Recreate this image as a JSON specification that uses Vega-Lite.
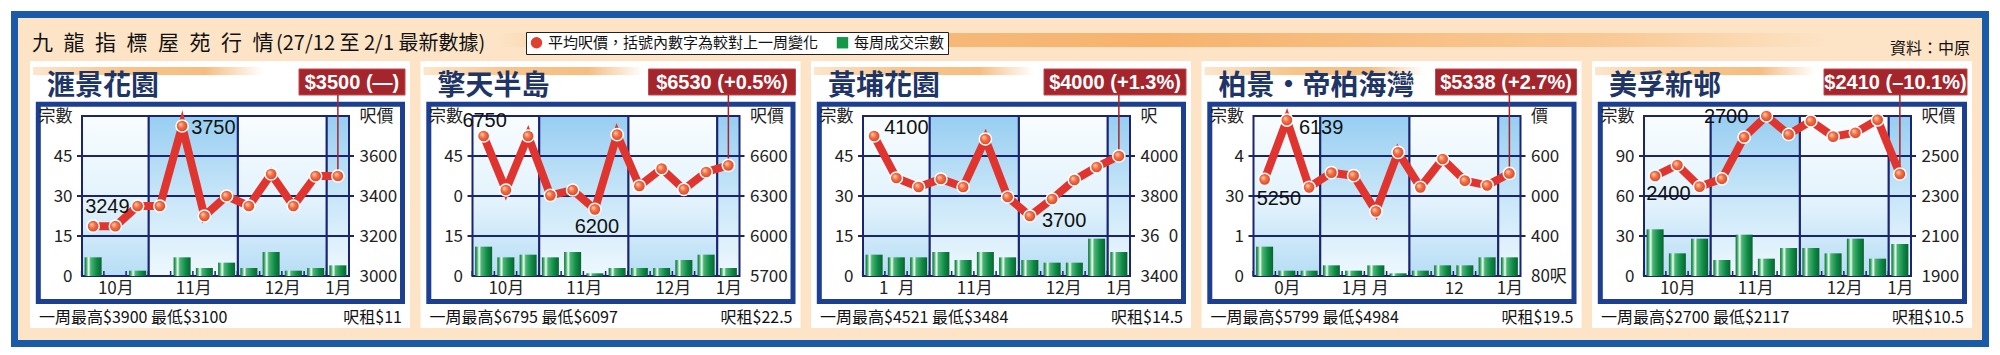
{
"$schema":"https://vega.github.io/schema/vega-lite/v6.json",
"autosize":{"type":"pad"},
"padding":{"left":11,"top":11,"right":11,"bottom":8},
"background":"white",
"spacing":113.5,
"bounds":"flush",
"config":{"view":{"stroke":null},"axis":{"labelOverlap":false}},
"datasets":{
"header":[{"title":"九\u2002龍\u2002指\u2002標\u2002屋\u2002苑\u2002行\u2002情","period":"(27/12 至 2/1 最新數據)","source":"資料：中原"}],
"legend":[{"series":"平均呎價，括號內數字為較對上一周變化"},{"series":"每周成交宗數"}],
"months":[{"month":"10月","start":0.5,"end":3.5,"tone":"light"},{"month":"11月","start":3.5,"end":7.5,"tone":"dark"},{"month":"12月","start":7.5,"end":11.5,"tone":"light"},{"month":"1月","start":11.5,"end":12.5,"tone":"dark"}],
"gridRows":[{"r":1},{"r":2},{"r":3}],
"info":[
{"estate":"滙景花園","tag":"$3500 (—)","footer":"一周最高$3900 最低$3100","rent":"呎租$11"},
{"estate":"擎天半島","tag":"$6530 (+0.5%)","footer":"一周最高$6795 最低$6097","rent":"呎租$22.5"},
{"estate":"黃埔花園","tag":"$4000 (+1.3%)","footer":"一周最高$4521 最低$3484","rent":"呎租$14.5"},
{"estate":"柏景•帝柏海灣","tag":"$5338 (+2.7%)","footer":"一周最高$5799 最低$4984","rent":"呎租$19.5"},
{"estate":"美孚新邨","tag":"$2410 (–10.1%)","footer":"一周最高$2700 最低$2117","rent":"呎租$10.5"}],
"weeks":[
{"estate":"滙景花園","week":1,"price":3249,"deals":7,"note":"lo"},
{"estate":"滙景花園","week":2,"price":3249,"deals":0},
{"estate":"滙景花園","week":3,"price":3350,"deals":2},
{"estate":"滙景花園","week":4,"price":3350,"deals":0},
{"estate":"滙景花園","week":5,"price":3750,"deals":7,"note":"hi"},
{"estate":"滙景花園","week":6,"price":3300,"deals":3},
{"estate":"滙景花園","week":7,"price":3400,"deals":5},
{"estate":"滙景花園","week":8,"price":3350,"deals":3},
{"estate":"滙景花園","week":9,"price":3510,"deals":9},
{"estate":"滙景花園","week":10,"price":3350,"deals":2},
{"estate":"滙景花園","week":11,"price":3500,"deals":3},
{"estate":"滙景花園","week":12,"price":3500,"deals":4},
{"estate":"擎天半島","week":1,"price":6750,"deals":11,"note":"hi"},
{"estate":"擎天半島","week":2,"price":6345,"deals":7},
{"estate":"擎天半島","week":3,"price":6750,"deals":8},
{"estate":"擎天半島","week":4,"price":6305,"deals":7},
{"estate":"擎天半島","week":5,"price":6345,"deals":9},
{"estate":"擎天半島","week":6,"price":6200,"deals":1,"note":"lo"},
{"estate":"擎天半島","week":7,"price":6760,"deals":3},
{"estate":"擎天半島","week":8,"price":6375,"deals":3},
{"estate":"擎天半島","week":9,"price":6505,"deals":3},
{"estate":"擎天半島","week":10,"price":6350,"deals":6},
{"estate":"擎天半島","week":11,"price":6480,"deals":8},
{"estate":"擎天半島","week":12,"price":6530,"deals":3},
{"estate":"黃埔花園","week":1,"price":4100,"deals":8,"note":"hi"},
{"estate":"黃埔花園","week":2,"price":3890,"deals":7},
{"estate":"黃埔花園","week":3,"price":3845,"deals":7},
{"estate":"黃埔花園","week":4,"price":3885,"deals":9},
{"estate":"黃埔花園","week":5,"price":3845,"deals":6},
{"estate":"黃埔花園","week":6,"price":4085,"deals":9},
{"estate":"黃埔花園","week":7,"price":3795,"deals":7},
{"estate":"黃埔花園","week":8,"price":3700,"deals":6,"note":"lo"},
{"estate":"黃埔花園","week":9,"price":3785,"deals":5},
{"estate":"黃埔花園","week":10,"price":3880,"deals":5},
{"estate":"黃埔花園","week":11,"price":3945,"deals":14},
{"estate":"黃埔花園","week":12,"price":4000,"deals":9},
{"estate":"柏景•帝柏海灣","week":1,"price":5250,"deals":11,"note":"lo"},
{"estate":"柏景•帝柏海灣","week":2,"price":6139,"deals":2,"note":"hi"},
{"estate":"柏景•帝柏海灣","week":3,"price":5130,"deals":2},
{"estate":"柏景•帝柏海灣","week":4,"price":5350,"deals":4},
{"estate":"柏景•帝柏海灣","week":5,"price":5305,"deals":2},
{"estate":"柏景•帝柏海灣","week":6,"price":4770,"deals":4},
{"estate":"柏景•帝柏海灣","week":7,"price":5655,"deals":1},
{"estate":"柏景•帝柏海灣","week":8,"price":5130,"deals":2},
{"estate":"柏景•帝柏海灣","week":9,"price":5555,"deals":4},
{"estate":"柏景•帝柏海灣","week":10,"price":5230,"deals":4},
{"estate":"柏景•帝柏海灣","week":11,"price":5160,"deals":7},
{"estate":"柏景•帝柏海灣","week":12,"price":5338,"deals":7},
{"estate":"美孚新邨","week":1,"price":2400,"deals":35,"note":"lo"},
{"estate":"美孚新邨","week":2,"price":2455,"deals":17},
{"estate":"美孚新邨","week":3,"price":2347,"deals":28},
{"estate":"美孚新邨","week":4,"price":2386,"deals":12},
{"estate":"美孚新邨","week":5,"price":2594,"deals":31},
{"estate":"美孚新邨","week":6,"price":2700,"deals":13,"note":"hi"},
{"estate":"美孚新邨","week":7,"price":2608,"deals":21},
{"estate":"美孚新邨","week":8,"price":2675,"deals":21},
{"estate":"美孚新邨","week":9,"price":2597,"deals":17},
{"estate":"美孚新邨","week":10,"price":2616,"deals":28},
{"estate":"美孚新邨","week":11,"price":2681,"deals":13},
{"estate":"美孚新邨","week":12,"price":2410,"deals":24}]
},
"hconcat":[
{
"width":277,"height":160,
"data":{"name":"weeks"},
"transform":[{"filter":"datum.estate=='滙景花園'"}],
"resolve":{"scale":{"y":"independent"}},
"layer":[
{"data":{"name":"header"},"layer":[
 {"mark":{"type":"rect","fill":"#fde4c6","stroke":"#1a5ba9","strokeWidth":7},"encoding":{"x":{"value":-62.5},"x2":{"value":1908.5},"y":{"value":-101.5},"y2":{"value":227.5}}},
 {"mark":{"type":"rect","fill":{"gradient":"linear","x1":0,"y1":0,"x2":1,"y2":0,"stops":[{"offset":0,"color":"#fde4c6"},{"offset":0.1,"color":"#f8c086"},{"offset":0.5,"color":"#f6b36e"},{"offset":0.85,"color":"#f9cb98"},{"offset":1,"color":"#fde4c6"}]}},"encoding":{"x":{"value":420},"x2":{"value":1753},"y":{"value":-83},"y2":{"value":-69}}},
 {"mark":{"type":"text","align":"left","baseline":"alphabetic","font":"Noto Sans CJK TC, sans-serif","fontSize":21,"fill":"#111"},"encoding":{"x":{"value":-45},"y":{"value":-66},"text":{"field":"title"}}},
 {"mark":{"type":"text","align":"left","baseline":"alphabetic","font":"Liberation Sans Narrow, Noto Sans CJK TC, sans-serif","fontSize":20,"fill":"#111"},"encoding":{"x":{"value":199},"y":{"value":-66},"text":{"field":"period"}}}
]},
{"data":{"name":"legend"},"mark":{"type":"point","filled":true,"opacity":0},
 "encoding":{
  "color":{"field":"series","type":"nominal","scale":{"domain":["平均呎價，括號內數字為較對上一周變化","每周成交宗數"],"range":["#e0402e","#129848"]},"legend":{"orient":"none","legendX":449,"legendY":-84,"direction":"horizontal","title":null,"strokeColor":"#222","fillColor":"#ffffff","padding":3,"labelFont":"Noto Sans CJK TC, sans-serif","labelFontSize":15,"labelColor":"#111","symbolSize":130,"symbolOpacity":1,"symbolStrokeWidth":0,"columnPadding":16,"labelOffset":4,"labelLimit":400}},
  "shape":{"field":"series","type":"nominal","scale":{"domain":["平均呎價，括號內數字為較對上一周變化","每周成交宗數"],"range":["circle","square"]},"legend":{"orient":"none","legendX":449,"legendY":-84,"direction":"horizontal","title":null,"strokeColor":"#222","fillColor":"#ffffff","padding":3,"labelFont":"Noto Sans CJK TC, sans-serif","labelFontSize":15,"labelColor":"#111","symbolSize":130,"symbolOpacity":1,"symbolStrokeWidth":0,"columnPadding":16,"labelOffset":4,"labelLimit":400}}
 }},
{"data":{"name":"info"},"transform":[{"filter":"datum.estate=='滙景花園'"}],"layer":[
 {"mark":{"type":"rect","fill":"#ffffff"},"encoding":{"x":{"value":-47},"x2":{"value":333},"y":{"value":-55},"y2":{"value":212}}},
 {"mark":{"type":"rect","fill":{"gradient":"linear","x1":0,"y1":0,"x2":1,"y2":0,"stops":[{"offset":0,"color":"#fde6cc"},{"offset":0.4,"color":"#f8c48a"},{"offset":0.75,"color":"#f7bd80"},{"offset":1,"color":"#ffffff"}]}},"encoding":{"x":{"value":-44},"x2":{"value":186},"y":{"value":-49},"y2":{"value":-41}}},
 {"mark":{"type":"text","align":"left","baseline":"alphabetic","font":"Noto Sans CJK TC, sans-serif","fontSize":28,"fontWeight":"bold","fill":"#1e3566"},"encoding":{"x":{"value":-30},"y":{"value":-21},"text":{"field":"estate"}}},
 {"mark":{"type":"rect","fill":"#ffffff","stroke":"#1d3f91","strokeWidth":5},"encoding":{"x":{"value":-38.7},"x2":{"value":325.5},"y":{"value":-11.8},"y2":{"value":185.5}}},
 {"mark":{"type":"rect","fill":"#a4262c","stroke":"#c24a4a","strokeWidth":1},"encoding":{"x":{"value":222},"x2":{"value":328},"y":{"value":-47},"y2":{"value":-21}}},
 {"mark":{"type":"text","align":"center","baseline":"middle","font":"Liberation Sans, sans-serif","fontSize":20,"fontWeight":"bold","fill":"#ffffff"},"encoding":{"x":{"value":275},"y":{"value":-33.5},"text":{"field":"tag"}}},
 {"mark":{"type":"text","align":"left","baseline":"middle","font":"Liberation Sans Narrow, Noto Sans CJK TC, sans-serif","fontSize":16,"fill":"#111"},"encoding":{"x":{"value":-38},"y":{"value":202},"text":{"field":"footer"}}},
 {"mark":{"type":"text","align":"right","baseline":"middle","font":"Liberation Sans Narrow, Noto Sans CJK TC, sans-serif","fontSize":16,"fill":"#111"},"encoding":{"x":{"value":325},"y":{"value":202},"text":{"field":"rent"}}}
]},
{"data":{"name":"months"},"transform":[{"filter":"datum.tone=='light'"}],
 "mark":{"type":"rect","fill":{"gradient":"linear","x1":0,"y1":0,"x2":0,"y2":1,"stops":[{"offset":0,"color":"#f8fdff"},{"offset":0.55,"color":"#e2f2fc"},{"offset":1,"color":"#b6ddf5"}]},"stroke":"#1b2470","strokeWidth":2},
 "encoding":{"x":{"field":"start","type":"quantitative","scale":{"domain":[0.5,12.5],"nice":false,"zero":false},"axis":{"values":[2,5.5,9.5,12],"labelExpr":"datum.value==2?'10月':datum.value==5.5?'11月':datum.value==9.5?'12月':'1月'","ticks":false,"domain":false,"grid":false,"title":null,"labelPadding":4,"labelFont":"Liberation Sans Narrow, Noto Sans CJK TC, sans-serif","labelFontSize":17,"labelColor":"#222","labelOverlap":false,"labelFlush":false,"zindex":1}},"x2":{"field":"end"}}},
{"data":{"name":"months"},"transform":[{"filter":"datum.tone=='dark'"}],
 "mark":{"type":"rect","fill":{"gradient":"linear","x1":0,"y1":0,"x2":0,"y2":1,"stops":[{"offset":0,"color":"#97cef1"},{"offset":0.5,"color":"#c8e6f8"},{"offset":1,"color":"#eef8fe"}]},"stroke":"#1b2470","strokeWidth":2},
 "encoding":{"x":{"field":"start","type":"quantitative","title":null},"x2":{"field":"end"}}},
{"data":{"name":"gridRows"},"mark":{"type":"rule","color":"#1b2470","strokeWidth":2},"encoding":{"y":{"field":"r","type":"quantitative","scale":{"domain":[0,4],"nice":false,"zero":false},"axis":null}}},
{"mark":{"type":"bar","orient":"vertical","width":17,"fill":{"gradient":"linear","x1":0,"y1":0,"x2":1,"y2":0,"stops":[{"offset":0,"color":"#0b6a33"},{"offset":0.12,"color":"#4cb574"},{"offset":0.24,"color":"#f2fff6"},{"offset":0.36,"color":"#4cb574"},{"offset":0.7,"color":"#0f8c47"},{"offset":1,"color":"#0a6330"}]}},
 "encoding":{"x":{"field":"week","type":"quantitative","title":null},
  "y":{"field":"deals","type":"quantitative","scale":{"domain":[0,60],"nice":false},"axis":{"orient":"left","values":[0,15,30,45,60],"format":"d","labelExpr":"datum.value==60?'宗數':datum.label","grid":false,"domain":false,"ticks":false,"title":null,"labelPadding":5,"labelFont":"Liberation Sans Narrow, Noto Sans CJK TC, sans-serif","labelFontSize":17,"labelColor":"#222","labelFlush":false,"zindex":1}}}},
{"mark":{"type":"rule","color":"#1b2470","strokeWidth":1.5,"xOffset":-11.5},"encoding":{"x":{"field":"week","type":"quantitative","title":null},"y":{"value":160},"y2":{"value":155}}},
{"encoding":{"x":{"field":"week","type":"quantitative","title":null},
  "y":{"field":"price","type":"quantitative","scale":{"domain":[3000,3800],"nice":false,"zero":false},"axis":{"orient":"right","values":[3000,3200,3400,3600,3800],"format":"d","labelExpr":"datum.value==3800?'呎價':datum.label","grid":false,"domain":false,"ticks":false,"title":null,"labelPadding":5,"labelFont":"Liberation Sans Narrow, Noto Sans CJK TC, sans-serif","labelFontSize":17,"labelColor":"#222","labelFlush":false,"zindex":1}}},
 "layer":[
  {"transform":[{"filter":"datum.week==12"}],"mark":{"type":"rule","color":"#a4262c","strokeWidth":1.5},"encoding":{"y2":{"value":-21}}},
  {"mark":{"type":"line","color":"#e0352f","strokeWidth":8}},
  {"mark":{"type":"point","filled":true,"size":150,"opacity":1,"stroke":"#ffffff","strokeWidth":1.5,"fill":{"gradient":"radial","x1":0.35,"y1":0.35,"r1":0,"x2":0.5,"y2":0.5,"r2":0.55,"stops":[{"offset":0,"color":"#ffd0bd"},{"offset":0.45,"color":"#f0703f"},{"offset":1,"color":"#d8382c"}]}}},
  {"transform":[{"filter":"datum.note=='hi'"}],"mark":{"type":"text","align":"left","baseline":"middle","dx":9,"dy":2,"font":"Liberation Sans Narrow, Liberation Sans, sans-serif","fontSize":20,"fill":"#111"},"encoding":{"text":{"field":"price","type":"quantitative","format":"d"}}},
  {"transform":[{"filter":"datum.note=='lo'"}],"mark":{"type":"text","align":"left","baseline":"middle","dx":-8,"dy":-19,"font":"Liberation Sans Narrow, Liberation Sans, sans-serif","fontSize":20,"fill":"#111"},"encoding":{"text":{"field":"price","type":"quantitative","format":"d"}}}
 ]}
]
},
{
"width":277,"height":160,
"data":{"name":"weeks"},
"transform":[{"filter":"datum.estate=='擎天半島'"}],
"resolve":{"scale":{"y":"independent"}},
"layer":[
{"data":{"name":"info"},"transform":[{"filter":"datum.estate=='擎天半島'"}],"layer":[
 {"mark":{"type":"rect","fill":"#ffffff"},"encoding":{"x":{"value":-47},"x2":{"value":333},"y":{"value":-55},"y2":{"value":212}}},
 {"mark":{"type":"rect","fill":{"gradient":"linear","x1":0,"y1":0,"x2":1,"y2":0,"stops":[{"offset":0,"color":"#fde6cc"},{"offset":0.4,"color":"#f8c48a"},{"offset":0.75,"color":"#f7bd80"},{"offset":1,"color":"#ffffff"}]}},"encoding":{"x":{"value":-44},"x2":{"value":176},"y":{"value":-49},"y2":{"value":-41}}},
 {"mark":{"type":"text","align":"left","baseline":"alphabetic","font":"Noto Sans CJK TC, sans-serif","fontSize":28,"fontWeight":"bold","fill":"#1e3566"},"encoding":{"x":{"value":-30},"y":{"value":-21},"text":{"field":"estate"}}},
 {"mark":{"type":"rect","fill":"#ffffff","stroke":"#1d3f91","strokeWidth":5},"encoding":{"x":{"value":-38.7},"x2":{"value":325.5},"y":{"value":-11.8},"y2":{"value":185.5}}},
 {"mark":{"type":"rect","fill":"#a4262c","stroke":"#c24a4a","strokeWidth":1},"encoding":{"x":{"value":181},"x2":{"value":328},"y":{"value":-47},"y2":{"value":-21}}},
 {"mark":{"type":"text","align":"center","baseline":"middle","font":"Liberation Sans, sans-serif","fontSize":20,"fontWeight":"bold","fill":"#ffffff"},"encoding":{"x":{"value":254.5},"y":{"value":-33.5},"text":{"field":"tag"}}},
 {"mark":{"type":"text","align":"left","baseline":"middle","font":"Liberation Sans Narrow, Noto Sans CJK TC, sans-serif","fontSize":16,"fill":"#111"},"encoding":{"x":{"value":-38},"y":{"value":202},"text":{"field":"footer"}}},
 {"mark":{"type":"text","align":"right","baseline":"middle","font":"Liberation Sans Narrow, Noto Sans CJK TC, sans-serif","fontSize":16,"fill":"#111"},"encoding":{"x":{"value":325},"y":{"value":202},"text":{"field":"rent"}}}
]},
{"data":{"name":"months"},"transform":[{"filter":"datum.tone=='light'"}],
 "mark":{"type":"rect","fill":{"gradient":"linear","x1":0,"y1":0,"x2":0,"y2":1,"stops":[{"offset":0,"color":"#f8fdff"},{"offset":0.55,"color":"#e2f2fc"},{"offset":1,"color":"#b6ddf5"}]},"stroke":"#1b2470","strokeWidth":2},
 "encoding":{"x":{"field":"start","type":"quantitative","scale":{"domain":[0.5,12.5],"nice":false,"zero":false},"axis":{"values":[2,5.5,9.5,12],"labelExpr":"datum.value==2?'10月':datum.value==5.5?'11月':datum.value==9.5?'12月':'1月'","ticks":false,"domain":false,"grid":false,"title":null,"labelPadding":4,"labelFont":"Liberation Sans Narrow, Noto Sans CJK TC, sans-serif","labelFontSize":17,"labelColor":"#222","labelOverlap":false,"labelFlush":false,"zindex":1}},"x2":{"field":"end"}}},
{"data":{"name":"months"},"transform":[{"filter":"datum.tone=='dark'"}],
 "mark":{"type":"rect","fill":{"gradient":"linear","x1":0,"y1":0,"x2":0,"y2":1,"stops":[{"offset":0,"color":"#97cef1"},{"offset":0.5,"color":"#c8e6f8"},{"offset":1,"color":"#eef8fe"}]},"stroke":"#1b2470","strokeWidth":2},
 "encoding":{"x":{"field":"start","type":"quantitative","title":null},"x2":{"field":"end"}}},
{"data":{"name":"gridRows"},"mark":{"type":"rule","color":"#1b2470","strokeWidth":2},"encoding":{"y":{"field":"r","type":"quantitative","scale":{"domain":[0,4],"nice":false,"zero":false},"axis":null}}},
{"mark":{"type":"bar","orient":"vertical","width":17,"fill":{"gradient":"linear","x1":0,"y1":0,"x2":1,"y2":0,"stops":[{"offset":0,"color":"#0b6a33"},{"offset":0.12,"color":"#4cb574"},{"offset":0.24,"color":"#f2fff6"},{"offset":0.36,"color":"#4cb574"},{"offset":0.7,"color":"#0f8c47"},{"offset":1,"color":"#0a6330"}]}},
 "encoding":{"x":{"field":"week","type":"quantitative","title":null},
  "y":{"field":"deals","type":"quantitative","scale":{"domain":[0,60],"nice":false},"axis":{"orient":"left","values":[0,15,30,45,60],"format":"d","labelExpr":"datum.value==60?'宗數':datum.value==30?'0':datum.label","grid":false,"domain":false,"ticks":false,"title":null,"labelPadding":5,"labelFont":"Liberation Sans Narrow, Noto Sans CJK TC, sans-serif","labelFontSize":17,"labelColor":"#222","labelFlush":false,"zindex":1}}}},
{"mark":{"type":"rule","color":"#1b2470","strokeWidth":1.5,"xOffset":-11.5},"encoding":{"x":{"field":"week","type":"quantitative","title":null},"y":{"value":160},"y2":{"value":155}}},
{"encoding":{"x":{"field":"week","type":"quantitative","title":null},
  "y":{"field":"price","type":"quantitative","scale":{"domain":[5700,6900],"nice":false,"zero":false},"axis":{"orient":"right","values":[5700,6000,6300,6600,6900],"format":"d","labelExpr":"datum.value==6900?'呎價':datum.label","grid":false,"domain":false,"ticks":false,"title":null,"labelPadding":5,"labelFont":"Liberation Sans Narrow, Noto Sans CJK TC, sans-serif","labelFontSize":17,"labelColor":"#222","labelFlush":false,"zindex":1}}},
 "layer":[
  {"transform":[{"filter":"datum.week==12"}],"mark":{"type":"rule","color":"#a4262c","strokeWidth":1.5},"encoding":{"y2":{"value":-21}}},
  {"mark":{"type":"line","color":"#e0352f","strokeWidth":8}},
  {"mark":{"type":"point","filled":true,"size":150,"opacity":1,"stroke":"#ffffff","strokeWidth":1.5,"fill":{"gradient":"radial","x1":0.35,"y1":0.35,"r1":0,"x2":0.5,"y2":0.5,"r2":0.55,"stops":[{"offset":0,"color":"#ffd0bd"},{"offset":0.45,"color":"#f0703f"},{"offset":1,"color":"#d8382c"}]}}},
  {"transform":[{"filter":"datum.note=='hi'"}],"mark":{"type":"text","align":"center","baseline":"middle","dx":1,"dy":-15,"font":"Liberation Sans Narrow, Liberation Sans, sans-serif","fontSize":20,"fill":"#111"},"encoding":{"text":{"field":"price","type":"quantitative","format":"d"}}},
  {"transform":[{"filter":"datum.note=='lo'"}],"mark":{"type":"text","align":"center","baseline":"middle","dx":2,"dy":18,"font":"Liberation Sans Narrow, Liberation Sans, sans-serif","fontSize":20,"fill":"#111"},"encoding":{"text":{"field":"price","type":"quantitative","format":"d"}}}
 ]}
]
},
{
"width":277,"height":160,
"data":{"name":"weeks"},
"transform":[{"filter":"datum.estate=='黃埔花園'"}],
"resolve":{"scale":{"y":"independent"}},
"layer":[
{"data":{"name":"info"},"transform":[{"filter":"datum.estate=='黃埔花園'"}],"layer":[
 {"mark":{"type":"rect","fill":"#ffffff"},"encoding":{"x":{"value":-47},"x2":{"value":333},"y":{"value":-55},"y2":{"value":212}}},
 {"mark":{"type":"rect","fill":{"gradient":"linear","x1":0,"y1":0,"x2":1,"y2":0,"stops":[{"offset":0,"color":"#fde6cc"},{"offset":0.4,"color":"#f8c48a"},{"offset":0.75,"color":"#f7bd80"},{"offset":1,"color":"#ffffff"}]}},"encoding":{"x":{"value":-44},"x2":{"value":176},"y":{"value":-49},"y2":{"value":-41}}},
 {"mark":{"type":"text","align":"left","baseline":"alphabetic","font":"Noto Sans CJK TC, sans-serif","fontSize":28,"fontWeight":"bold","fill":"#1e3566"},"encoding":{"x":{"value":-30},"y":{"value":-21},"text":{"field":"estate"}}},
 {"mark":{"type":"rect","fill":"#ffffff","stroke":"#1d3f91","strokeWidth":5},"encoding":{"x":{"value":-38.7},"x2":{"value":325.5},"y":{"value":-11.8},"y2":{"value":185.5}}},
 {"mark":{"type":"rect","fill":"#a4262c","stroke":"#c24a4a","strokeWidth":1},"encoding":{"x":{"value":186},"x2":{"value":328},"y":{"value":-47},"y2":{"value":-21}}},
 {"mark":{"type":"text","align":"center","baseline":"middle","font":"Liberation Sans, sans-serif","fontSize":20,"fontWeight":"bold","fill":"#ffffff"},"encoding":{"x":{"value":257},"y":{"value":-33.5},"text":{"field":"tag"}}},
 {"mark":{"type":"text","align":"left","baseline":"middle","font":"Liberation Sans Narrow, Noto Sans CJK TC, sans-serif","fontSize":16,"fill":"#111"},"encoding":{"x":{"value":-38},"y":{"value":202},"text":{"field":"footer"}}},
 {"mark":{"type":"text","align":"right","baseline":"middle","font":"Liberation Sans Narrow, Noto Sans CJK TC, sans-serif","fontSize":16,"fill":"#111"},"encoding":{"x":{"value":325},"y":{"value":202},"text":{"field":"rent"}}}
]},
{"data":{"name":"months"},"transform":[{"filter":"datum.tone=='light'"}],
 "mark":{"type":"rect","fill":{"gradient":"linear","x1":0,"y1":0,"x2":0,"y2":1,"stops":[{"offset":0,"color":"#f8fdff"},{"offset":0.55,"color":"#e2f2fc"},{"offset":1,"color":"#b6ddf5"}]},"stroke":"#1b2470","strokeWidth":2},
 "encoding":{"x":{"field":"start","type":"quantitative","scale":{"domain":[0.5,12.5],"nice":false,"zero":false},"axis":{"values":[2,5.5,9.5,12],"labelExpr":"datum.value==2?'1\u2007月':datum.value==5.5?'11月':datum.value==9.5?'12月':'1月'","ticks":false,"domain":false,"grid":false,"title":null,"labelPadding":4,"labelFont":"Liberation Sans Narrow, Noto Sans CJK TC, sans-serif","labelFontSize":17,"labelColor":"#222","labelOverlap":false,"labelFlush":false,"zindex":1}},"x2":{"field":"end"}}},
{"data":{"name":"months"},"transform":[{"filter":"datum.tone=='dark'"}],
 "mark":{"type":"rect","fill":{"gradient":"linear","x1":0,"y1":0,"x2":0,"y2":1,"stops":[{"offset":0,"color":"#97cef1"},{"offset":0.5,"color":"#c8e6f8"},{"offset":1,"color":"#eef8fe"}]},"stroke":"#1b2470","strokeWidth":2},
 "encoding":{"x":{"field":"start","type":"quantitative","title":null},"x2":{"field":"end"}}},
{"data":{"name":"gridRows"},"mark":{"type":"rule","color":"#1b2470","strokeWidth":2},"encoding":{"y":{"field":"r","type":"quantitative","scale":{"domain":[0,4],"nice":false,"zero":false},"axis":null}}},
{"mark":{"type":"bar","orient":"vertical","width":17,"fill":{"gradient":"linear","x1":0,"y1":0,"x2":1,"y2":0,"stops":[{"offset":0,"color":"#0b6a33"},{"offset":0.12,"color":"#4cb574"},{"offset":0.24,"color":"#f2fff6"},{"offset":0.36,"color":"#4cb574"},{"offset":0.7,"color":"#0f8c47"},{"offset":1,"color":"#0a6330"}]}},
 "encoding":{"x":{"field":"week","type":"quantitative","title":null},
  "y":{"field":"deals","type":"quantitative","scale":{"domain":[0,60],"nice":false},"axis":{"orient":"left","values":[0,15,30,45,60],"format":"d","labelExpr":"datum.value==60?'宗數':datum.label","grid":false,"domain":false,"ticks":false,"title":null,"labelPadding":5,"labelFont":"Liberation Sans Narrow, Noto Sans CJK TC, sans-serif","labelFontSize":17,"labelColor":"#222","labelFlush":false,"zindex":1}}}},
{"mark":{"type":"rule","color":"#1b2470","strokeWidth":1.5,"xOffset":-11.5},"encoding":{"x":{"field":"week","type":"quantitative","title":null},"y":{"value":160},"y2":{"value":155}}},
{"encoding":{"x":{"field":"week","type":"quantitative","title":null},
  "y":{"field":"price","type":"quantitative","scale":{"domain":[3400,4200],"nice":false,"zero":false},"axis":{"orient":"right","values":[3400,3600,3800,4000,4200],"format":"d","labelExpr":"datum.value==4200?'呎':datum.value==3600?'36\u20070':datum.label","grid":false,"domain":false,"ticks":false,"title":null,"labelPadding":5,"labelFont":"Liberation Sans Narrow, Noto Sans CJK TC, sans-serif","labelFontSize":17,"labelColor":"#222","labelFlush":false,"zindex":1}}},
 "layer":[
  {"transform":[{"filter":"datum.week==12"}],"mark":{"type":"rule","color":"#a4262c","strokeWidth":1.5},"encoding":{"y2":{"value":-21}}},
  {"mark":{"type":"line","color":"#e0352f","strokeWidth":8}},
  {"mark":{"type":"point","filled":true,"size":150,"opacity":1,"stroke":"#ffffff","strokeWidth":1.5,"fill":{"gradient":"radial","x1":0.35,"y1":0.35,"r1":0,"x2":0.5,"y2":0.5,"r2":0.55,"stops":[{"offset":0,"color":"#ffd0bd"},{"offset":0.45,"color":"#f0703f"},{"offset":1,"color":"#d8382c"}]}}},
  {"transform":[{"filter":"datum.note=='hi'"}],"mark":{"type":"text","align":"left","baseline":"middle","dx":10,"dy":-8,"font":"Liberation Sans Narrow, Liberation Sans, sans-serif","fontSize":20,"fill":"#111"},"encoding":{"text":{"field":"price","type":"quantitative","format":"d"}}},
  {"transform":[{"filter":"datum.note=='lo'"}],"mark":{"type":"text","align":"left","baseline":"middle","dx":12,"dy":5,"font":"Liberation Sans Narrow, Liberation Sans, sans-serif","fontSize":20,"fill":"#111"},"encoding":{"text":{"field":"price","type":"quantitative","format":"d"}}}
 ]}
]
},
{
"width":277,"height":160,
"data":{"name":"weeks"},
"transform":[{"filter":"datum.estate=='柏景•帝柏海灣'"}],
"resolve":{"scale":{"y":"independent"}},
"layer":[
{"data":{"name":"info"},"transform":[{"filter":"datum.estate=='柏景•帝柏海灣'"}],"layer":[
 {"mark":{"type":"rect","fill":"#ffffff"},"encoding":{"x":{"value":-47},"x2":{"value":333},"y":{"value":-55},"y2":{"value":212}}},
 {"mark":{"type":"rect","fill":{"gradient":"linear","x1":0,"y1":0,"x2":1,"y2":0,"stops":[{"offset":0,"color":"#fde6cc"},{"offset":0.4,"color":"#f8c48a"},{"offset":0.75,"color":"#f7bd80"},{"offset":1,"color":"#ffffff"}]}},"encoding":{"x":{"value":-44},"x2":{"value":176},"y":{"value":-49},"y2":{"value":-41}}},
 {"mark":{"type":"text","align":"left","baseline":"alphabetic","font":"Noto Sans CJK TC, sans-serif","fontSize":28,"fontWeight":"bold","fill":"#1e3566"},"encoding":{"x":{"value":-30},"y":{"value":-21},"text":{"field":"estate"}}},
 {"mark":{"type":"rect","fill":"#ffffff","stroke":"#1d3f91","strokeWidth":5},"encoding":{"x":{"value":-38.7},"x2":{"value":325.5},"y":{"value":-11.8},"y2":{"value":185.5}}},
 {"mark":{"type":"rect","fill":"#a4262c","stroke":"#c24a4a","strokeWidth":1},"encoding":{"x":{"value":187},"x2":{"value":328},"y":{"value":-47},"y2":{"value":-21}}},
 {"mark":{"type":"text","align":"center","baseline":"middle","font":"Liberation Sans, sans-serif","fontSize":20,"fontWeight":"bold","fill":"#ffffff"},"encoding":{"x":{"value":257.5},"y":{"value":-33.5},"text":{"field":"tag"}}},
 {"mark":{"type":"text","align":"left","baseline":"middle","font":"Liberation Sans Narrow, Noto Sans CJK TC, sans-serif","fontSize":16,"fill":"#111"},"encoding":{"x":{"value":-38},"y":{"value":202},"text":{"field":"footer"}}},
 {"mark":{"type":"text","align":"right","baseline":"middle","font":"Liberation Sans Narrow, Noto Sans CJK TC, sans-serif","fontSize":16,"fill":"#111"},"encoding":{"x":{"value":325},"y":{"value":202},"text":{"field":"rent"}}}
]},
{"data":{"name":"months"},"transform":[{"filter":"datum.tone=='light'"}],
 "mark":{"type":"rect","fill":{"gradient":"linear","x1":0,"y1":0,"x2":0,"y2":1,"stops":[{"offset":0,"color":"#f8fdff"},{"offset":0.55,"color":"#e2f2fc"},{"offset":1,"color":"#b6ddf5"}]},"stroke":"#1b2470","strokeWidth":2},
 "encoding":{"x":{"field":"start","type":"quantitative","scale":{"domain":[0.5,12.5],"nice":false,"zero":false},"axis":{"values":[2,5.5,9.5,12],"labelExpr":"datum.value==2?'0月':datum.value==5.5?'1月 月':datum.value==9.5?'12':'1月'","ticks":false,"domain":false,"grid":false,"title":null,"labelPadding":4,"labelFont":"Liberation Sans Narrow, Noto Sans CJK TC, sans-serif","labelFontSize":17,"labelColor":"#222","labelOverlap":false,"labelFlush":false,"zindex":1}},"x2":{"field":"end"}}},
{"data":{"name":"months"},"transform":[{"filter":"datum.tone=='dark'"}],
 "mark":{"type":"rect","fill":{"gradient":"linear","x1":0,"y1":0,"x2":0,"y2":1,"stops":[{"offset":0,"color":"#97cef1"},{"offset":0.5,"color":"#c8e6f8"},{"offset":1,"color":"#eef8fe"}]},"stroke":"#1b2470","strokeWidth":2},
 "encoding":{"x":{"field":"start","type":"quantitative","title":null},"x2":{"field":"end"}}},
{"data":{"name":"gridRows"},"mark":{"type":"rule","color":"#1b2470","strokeWidth":2},"encoding":{"y":{"field":"r","type":"quantitative","scale":{"domain":[0,4],"nice":false,"zero":false},"axis":null}}},
{"mark":{"type":"bar","orient":"vertical","width":17,"fill":{"gradient":"linear","x1":0,"y1":0,"x2":1,"y2":0,"stops":[{"offset":0,"color":"#0b6a33"},{"offset":0.12,"color":"#4cb574"},{"offset":0.24,"color":"#f2fff6"},{"offset":0.36,"color":"#4cb574"},{"offset":0.7,"color":"#0f8c47"},{"offset":1,"color":"#0a6330"}]}},
 "encoding":{"x":{"field":"week","type":"quantitative","title":null},
  "y":{"field":"deals","type":"quantitative","scale":{"domain":[0,60],"nice":false},"axis":{"orient":"left","values":[0,15,30,45,60],"format":"d","labelExpr":"datum.value==60?'宗數':datum.value==45?'4':datum.value==15?'1':datum.label","grid":false,"domain":false,"ticks":false,"title":null,"labelPadding":5,"labelFont":"Liberation Sans Narrow, Noto Sans CJK TC, sans-serif","labelFontSize":17,"labelColor":"#222","labelFlush":false,"zindex":1}}}},
{"mark":{"type":"rule","color":"#1b2470","strokeWidth":1.5,"xOffset":-11.5},"encoding":{"x":{"field":"week","type":"quantitative","title":null},"y":{"value":160},"y2":{"value":155}}},
{"encoding":{"x":{"field":"week","type":"quantitative","title":null},
  "y":{"field":"price","type":"quantitative","scale":{"domain":[3800,6200],"nice":false,"zero":false},"axis":{"orient":"right","values":[3800,4400,5000,5600,6200],"format":"d","labelExpr":"datum.value==6200?'\u2002 價':datum.value==5600?'600':datum.value==5000?'000':datum.value==4400?'400':'80呎'","grid":false,"domain":false,"ticks":false,"title":null,"labelPadding":5,"labelFont":"Liberation Sans Narrow, Noto Sans CJK TC, sans-serif","labelFontSize":17,"labelColor":"#222","labelFlush":false,"zindex":1}}},
 "layer":[
  {"transform":[{"filter":"datum.week==12"}],"mark":{"type":"rule","color":"#a4262c","strokeWidth":1.5},"encoding":{"y2":{"value":-21}}},
  {"mark":{"type":"line","color":"#e0352f","strokeWidth":8}},
  {"mark":{"type":"point","filled":true,"size":150,"opacity":1,"stroke":"#ffffff","strokeWidth":1.5,"fill":{"gradient":"radial","x1":0.35,"y1":0.35,"r1":0,"x2":0.5,"y2":0.5,"r2":0.55,"stops":[{"offset":0,"color":"#ffd0bd"},{"offset":0.45,"color":"#f0703f"},{"offset":1,"color":"#d8382c"}]}}},
  {"transform":[{"filter":"datum.note=='hi'"}],"mark":{"type":"text","align":"left","baseline":"middle","dx":12,"dy":8,"font":"Liberation Sans Narrow, Liberation Sans, sans-serif","fontSize":20,"fill":"#111"},"encoding":{"text":{"field":"price","type":"quantitative","format":"d"}}},
  {"transform":[{"filter":"datum.note=='lo'"}],"mark":{"type":"text","align":"left","baseline":"middle","dx":-8,"dy":20,"font":"Liberation Sans Narrow, Liberation Sans, sans-serif","fontSize":20,"fill":"#111"},"encoding":{"text":{"field":"price","type":"quantitative","format":"d"}}}
 ]}
]
},
{
"width":277,"height":160,
"data":{"name":"weeks"},
"transform":[{"filter":"datum.estate=='美孚新邨'"}],
"resolve":{"scale":{"y":"independent"}},
"layer":[
{"data":{"name":"header"},"mark":{"type":"text","align":"right","baseline":"alphabetic","font":"Noto Sans CJK TC, sans-serif","fontSize":16,"fill":"#111"},"encoding":{"x":{"value":331},"y":{"value":-62},"text":{"field":"source"}}},
{"data":{"name":"info"},"transform":[{"filter":"datum.estate=='美孚新邨'"}],"layer":[
 {"mark":{"type":"rect","fill":"#ffffff"},"encoding":{"x":{"value":-47},"x2":{"value":333},"y":{"value":-55},"y2":{"value":212}}},
 {"mark":{"type":"rect","fill":{"gradient":"linear","x1":0,"y1":0,"x2":1,"y2":0,"stops":[{"offset":0,"color":"#fde6cc"},{"offset":0.4,"color":"#f8c48a"},{"offset":0.75,"color":"#f7bd80"},{"offset":1,"color":"#ffffff"}]}},"encoding":{"x":{"value":-44},"x2":{"value":176},"y":{"value":-49},"y2":{"value":-41}}},
 {"mark":{"type":"text","align":"left","baseline":"alphabetic","font":"Noto Sans CJK TC, sans-serif","fontSize":28,"fontWeight":"bold","fill":"#1e3566"},"encoding":{"x":{"value":-30},"y":{"value":-21},"text":{"field":"estate"}}},
 {"mark":{"type":"rect","fill":"#ffffff","stroke":"#1d3f91","strokeWidth":5},"encoding":{"x":{"value":-38.7},"x2":{"value":325.5},"y":{"value":-11.8},"y2":{"value":185.5}}},
 {"mark":{"type":"rect","fill":"#a4262c","stroke":"#c24a4a","strokeWidth":1},"encoding":{"x":{"value":185},"x2":{"value":328},"y":{"value":-47},"y2":{"value":-21}}},
 {"mark":{"type":"text","align":"center","baseline":"middle","font":"Liberation Sans, sans-serif","fontSize":20,"fontWeight":"bold","fill":"#ffffff"},"encoding":{"x":{"value":256.5},"y":{"value":-33.5},"text":{"field":"tag"}}},
 {"mark":{"type":"text","align":"left","baseline":"middle","font":"Liberation Sans Narrow, Noto Sans CJK TC, sans-serif","fontSize":16,"fill":"#111"},"encoding":{"x":{"value":-38},"y":{"value":202},"text":{"field":"footer"}}},
 {"mark":{"type":"text","align":"right","baseline":"middle","font":"Liberation Sans Narrow, Noto Sans CJK TC, sans-serif","fontSize":16,"fill":"#111"},"encoding":{"x":{"value":325},"y":{"value":202},"text":{"field":"rent"}}}
]},
{"data":{"name":"months"},"transform":[{"filter":"datum.tone=='light'"}],
 "mark":{"type":"rect","fill":{"gradient":"linear","x1":0,"y1":0,"x2":0,"y2":1,"stops":[{"offset":0,"color":"#f8fdff"},{"offset":0.55,"color":"#e2f2fc"},{"offset":1,"color":"#b6ddf5"}]},"stroke":"#1b2470","strokeWidth":2},
 "encoding":{"x":{"field":"start","type":"quantitative","scale":{"domain":[0.5,12.5],"nice":false,"zero":false},"axis":{"values":[2,5.5,9.5,12],"labelExpr":"datum.value==2?'10月':datum.value==5.5?'11月':datum.value==9.5?'12月':'1月'","ticks":false,"domain":false,"grid":false,"title":null,"labelPadding":4,"labelFont":"Liberation Sans Narrow, Noto Sans CJK TC, sans-serif","labelFontSize":17,"labelColor":"#222","labelOverlap":false,"labelFlush":false,"zindex":1}},"x2":{"field":"end"}}},
{"data":{"name":"months"},"transform":[{"filter":"datum.tone=='dark'"}],
 "mark":{"type":"rect","fill":{"gradient":"linear","x1":0,"y1":0,"x2":0,"y2":1,"stops":[{"offset":0,"color":"#97cef1"},{"offset":0.5,"color":"#c8e6f8"},{"offset":1,"color":"#eef8fe"}]},"stroke":"#1b2470","strokeWidth":2},
 "encoding":{"x":{"field":"start","type":"quantitative","title":null},"x2":{"field":"end"}}},
{"data":{"name":"gridRows"},"mark":{"type":"rule","color":"#1b2470","strokeWidth":2},"encoding":{"y":{"field":"r","type":"quantitative","scale":{"domain":[0,4],"nice":false,"zero":false},"axis":null}}},
{"mark":{"type":"bar","orient":"vertical","width":17,"fill":{"gradient":"linear","x1":0,"y1":0,"x2":1,"y2":0,"stops":[{"offset":0,"color":"#0b6a33"},{"offset":0.12,"color":"#4cb574"},{"offset":0.24,"color":"#f2fff6"},{"offset":0.36,"color":"#4cb574"},{"offset":0.7,"color":"#0f8c47"},{"offset":1,"color":"#0a6330"}]}},
 "encoding":{"x":{"field":"week","type":"quantitative","title":null},
  "y":{"field":"deals","type":"quantitative","scale":{"domain":[0,120],"nice":false},"axis":{"orient":"left","values":[0,30,60,90,120],"format":"d","labelExpr":"datum.value==120?'宗數':datum.label","grid":false,"domain":false,"ticks":false,"title":null,"labelPadding":5,"labelFont":"Liberation Sans Narrow, Noto Sans CJK TC, sans-serif","labelFontSize":17,"labelColor":"#222","labelFlush":false,"zindex":1}}}},
{"mark":{"type":"rule","color":"#1b2470","strokeWidth":1.5,"xOffset":-11.5},"encoding":{"x":{"field":"week","type":"quantitative","title":null},"y":{"value":160},"y2":{"value":155}}},
{"encoding":{"x":{"field":"week","type":"quantitative","title":null},
  "y":{"field":"price","type":"quantitative","scale":{"domain":[1900,2700],"nice":false,"zero":false},"axis":{"orient":"right","values":[1900,2100,2300,2500,2700],"format":"d","labelExpr":"datum.value==2700?'呎價':datum.label","grid":false,"domain":false,"ticks":false,"title":null,"labelPadding":5,"labelFont":"Liberation Sans Narrow, Noto Sans CJK TC, sans-serif","labelFontSize":17,"labelColor":"#222","labelFlush":false,"zindex":1}}},
 "layer":[
  {"transform":[{"filter":"datum.week==12"}],"mark":{"type":"rule","color":"#a4262c","strokeWidth":1.5},"encoding":{"y2":{"value":-21}}},
  {"mark":{"type":"line","color":"#e0352f","strokeWidth":8}},
  {"mark":{"type":"point","filled":true,"size":150,"opacity":1,"stroke":"#ffffff","strokeWidth":1.5,"fill":{"gradient":"radial","x1":0.35,"y1":0.35,"r1":0,"x2":0.5,"y2":0.5,"r2":0.55,"stops":[{"offset":0,"color":"#ffd0bd"},{"offset":0.45,"color":"#f0703f"},{"offset":1,"color":"#d8382c"}]}}},
  {"transform":[{"filter":"datum.note=='hi'"}],"mark":{"type":"text","align":"right","baseline":"middle","dx":-18,"dy":1,"font":"Liberation Sans Narrow, Liberation Sans, sans-serif","fontSize":20,"fill":"#111"},"encoding":{"text":{"field":"price","type":"quantitative","format":"d"}}},
  {"transform":[{"filter":"datum.note=='lo'"}],"mark":{"type":"text","align":"left","baseline":"middle","dx":-9,"dy":18,"font":"Liberation Sans Narrow, Liberation Sans, sans-serif","fontSize":20,"fill":"#111"},"encoding":{"text":{"field":"price","type":"quantitative","format":"d"}}}
 ]}
]
}
]
}
